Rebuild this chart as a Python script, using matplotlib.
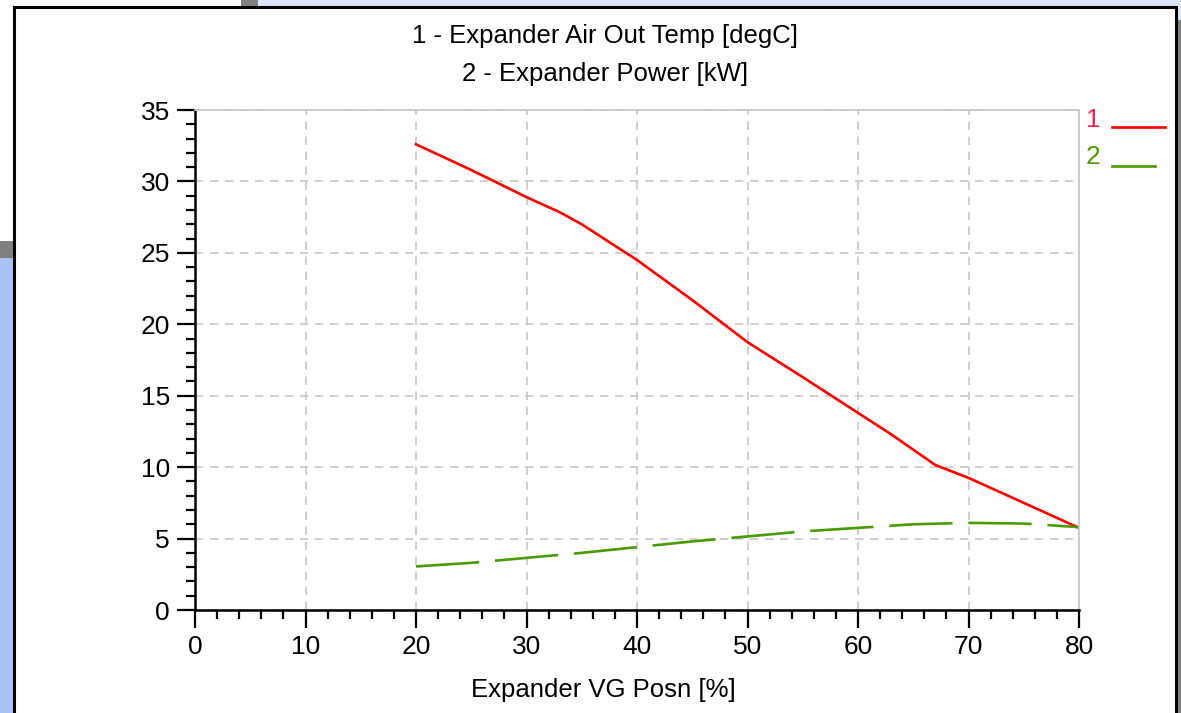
import matplotlib.pyplot as plt
import matplotlib.patches as mpatches
from matplotlib.lines import Line2D
from matplotlib.ticker import MultipleLocator

plt.rcParams['font.family'] = ['Liberation Sans', 'DejaVu Sans']

# data
vg_posn = [20, 25, 30, 33, 35, 37, 40, 45, 50, 55, 60, 63, 67, 70, 75, 80]
air_out_temp = [32.6, 30.8, 28.9, 27.85, 27.0, 26.0, 24.5, 21.7, 18.75, 16.3, 13.8, 12.3, 10.15, 9.25, 7.5, 5.75]
power_x = [20, 25, 30, 35, 40, 45, 50, 55, 60, 65, 70, 75, 80]
power = [3.05, 3.3, 3.65, 4.0, 4.4, 4.8, 5.15, 5.5, 5.75, 6.0, 6.1, 6.05, 5.8]

title_lines = ['1 - Expander Air Out Temp [degC]', '2 - Expander Power [kW]']
x_label = 'Expander VG Posn [%]'
red = '#ff0000'
green = '#4a9a00'

W, H = 1181, 713
fig = plt.figure(figsize=(W / 100, H / 100), dpi=100)
fig.patch.set_facecolor('#dde5fb')

def px_rect(x0, y0, x1, y1, **kw):
    # rectangle in pixel coords (top-left origin), kept behind the axes
    r = mpatches.Rectangle((x0 / W, 1 - y1 / H), (x1 - x0) / W, (y1 - y0) / H,
                           transform=fig.transFigure, zorder=-5, **kw)
    fig.patches.append(r)

# window chrome behind the chart
px_rect(0, 0, 241, 7, facecolor='white', edgecolor='none')
px_rect(241, 0, 258, 7, facecolor='#808080', edgecolor='none')
px_rect(0, 0, 14, 241, facecolor='white', edgecolor='none')
px_rect(0, 241, 14, 258, facecolor='#808080', edgecolor='none')
px_rect(0, 258, 14, H, facecolor='#a9c1f7', edgecolor='none')
px_rect(1176, 20, W, H, facecolor='#808080', edgecolor='none')
px_rect(14, 7, 1176, H + 5, facecolor='white', edgecolor='black', linewidth=2.2)

ax = fig.add_axes([195 / W, 1 - 610 / H, 884 / W, 500 / H])
ax.set_zorder(2)
ax.set_facecolor('none')
ax.plot(vg_posn, air_out_temp, color=red, lw=1.9)
ax.plot(power_x, power, color=green, lw=1.9, dashes=(24, 6))

ax.set_xlim(0, 80)
ax.set_ylim(0, 35)
ax.xaxis.set_major_locator(MultipleLocator(10))
ax.xaxis.set_minor_locator(MultipleLocator(2))
ax.yaxis.set_major_locator(MultipleLocator(5))
ax.yaxis.set_minor_locator(MultipleLocator(1))
ax.tick_params(which='major', length=13, width=1.6, labelsize=19, pad=5)
ax.tick_params(which='minor', length=6.5, width=1.6)
ax.grid(True, which='major', color='#c8c8c8', linestyle=(0, (5, 4)), lw=1.2)
for s in ['top', 'right']:
    ax.spines[s].set_color('#c8c8c8')
    ax.spines[s].set_linewidth(1.3)
for s in ['left', 'bottom']:
    ax.spines[s].set_linewidth(1.8)
ax.set_axisbelow(True)

fig.text(605 / W, 1 - 36 / H, title_lines[0], ha='center', va='center', fontsize=18.5)
fig.text(605 / W, 1 - 74 / H, title_lines[1], ha='center', va='center', fontsize=18.5)
fig.text(603 / W, 1 - 690 / H, x_label, ha='center', va='center', fontsize=18.5)

# legend at right
fig.text(1093 / W, 1 - 120 / H, '1', color='#ff2050', ha='center', va='center', fontsize=19)
fig.text(1093 / W, 1 - 157 / H, '2', color=green, ha='center', va='center', fontsize=19)
fig.lines.append(Line2D([1112 / W, 1165 / W], [1 - 127 / H] * 2, color=red, lw=1.9,
                        transform=fig.transFigure))
fig.lines.append(Line2D([1112 / W, 1155 / W], [1 - 166 / H] * 2, color=green, lw=1.9,
                        transform=fig.transFigure))

fig.savefig('out.png', dpi=100)
